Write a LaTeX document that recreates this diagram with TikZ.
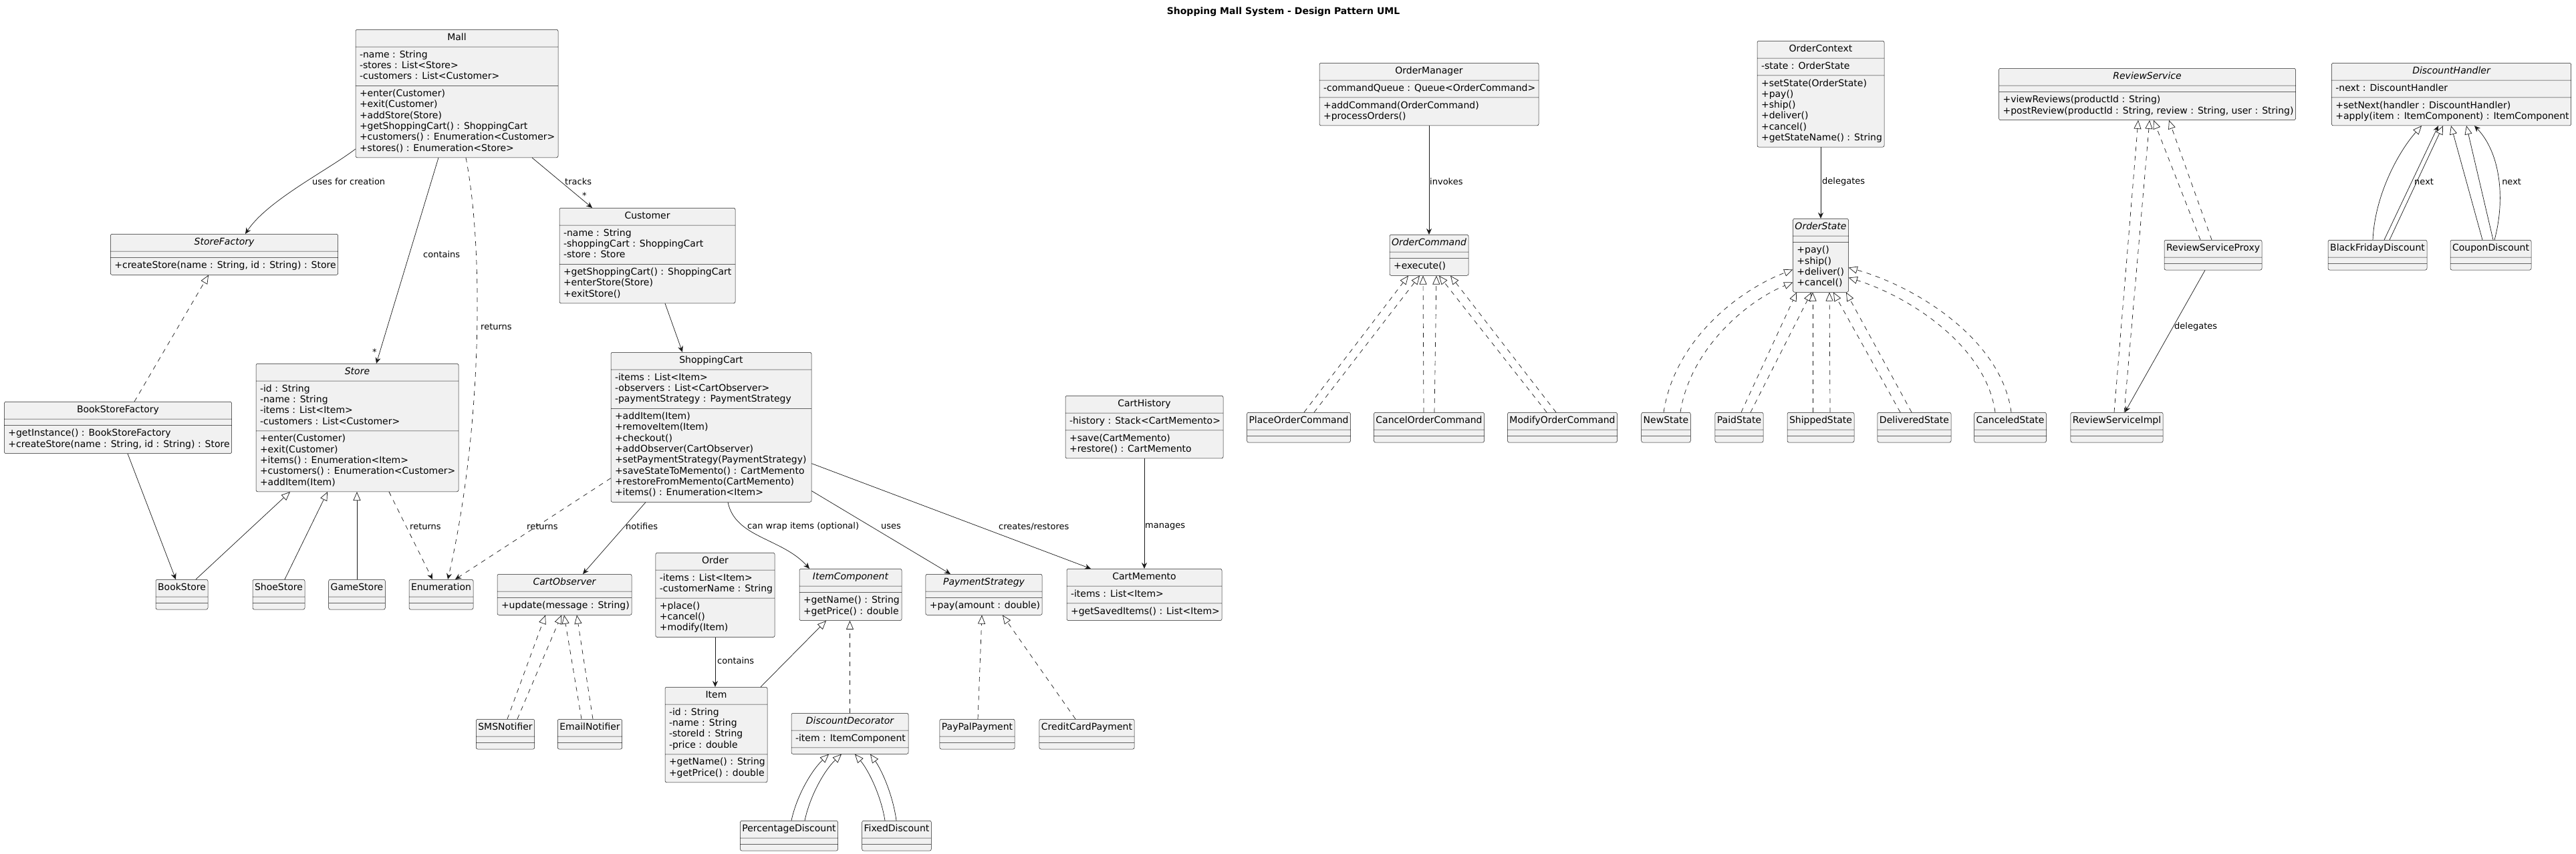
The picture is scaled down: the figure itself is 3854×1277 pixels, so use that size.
\documentclass[tikz,border=0pt]{standalone}
\usepackage{fontspec}
\setmainfont{DejaVu Sans}
\usetikzlibrary{shapes.multipart,arrows.meta}
\definecolor{umlfill}{HTML}{F1F1F1}
\definecolor{umlline}{HTML}{181818}
\newcommand{\umlfont}{\fontsize{14}{16.3}\selectfont}
\newcommand{\lblfont}{\fontsize{13}{15}\selectfont}
\newcommand{\umlrows}[1]{\begin{tabular}{@{\hspace{3pt}}l@{}}#1\end{tabular}}
\newcommand{\abst}[1]{{\itshape\strut #1}}
\newcommand{\nopart}{\rule{0pt}{0.01pt}\hspace*{1pt}}
\begin{document}
\begin{tikzpicture}[x=1pt,y=-1pt,
  umlbox/.style={rectangle split,rectangle split parts=3,rectangle split part align={center,left,left},
    rectangle split empty part height=0pt,rectangle split empty part depth=0pt,
    draw=umlline,fill=umlfill,line width=0.5pt,rounded corners=2.5pt,inner xsep=3pt,inner ysep=4.5pt,font=\umlfont,anchor=north},
  assoc/.style={draw=umlline,line width=0.7pt,-{Stealth[length=9pt,width=8pt,inset=3pt]}},
  depend/.style={assoc,dash pattern=on 7pt off 7pt},
  inherit/.style={draw=umlline,line width=0.7pt,-{Triangle[open,length=13pt,width=11pt,fill=white]}},
  realize/.style={inherit,dash pattern=on 7pt off 7pt},
  lbl/.style={font=\lblfont,inner sep=0pt,anchor=west}]
  \useasboundingbox[fill=white] (0,0) rectangle (3854,1277);
  \node[font=\bfseries\fontsize{14}{16}\selectfont] (title) at (1920,18) {Shopping Mall System - Design Pattern UML};

  \node[umlbox,minimum width=303pt] (mall) at (683.5,44) {\strut Mall\nodepart{two}\umlrows{-name : String\\-stores : List<Store>\\-customers : List<Customer>}\nodepart{three}\umlrows{+enter(Customer)\\+exit(Customer)\\+addStore(Store)\\+getShoppingCart() : ShoppingCart\\+customers() : Enumeration<Customer>\\+stores() : Enumeration<Store>}};
  \node[umlbox,minimum width=339pt] (storefactory) at (335.5,350) {\abst{StoreFactory}\nodepart{two}\nopart\nodepart{three}\umlrows{+createStore(name : String, id : String) : Store}};
  \node[umlbox,minimum width=263pt] (customer) at (968.5,311) {\strut Customer\nodepart{two}\umlrows{-name : String\\-shoppingCart : ShoppingCart\\-store : Store}\nodepart{three}\umlrows{+getShoppingCart() : ShoppingCart\\+enterStore(Store)\\+exitStore()}};
  \node[umlbox,minimum width=339pt] (bookstorefactory) at (176.5,601) {\strut BookStoreFactory\nodepart{two}\nopart\nodepart{three}\umlrows{+getInstance() : BookStoreFactory\\+createStore(name : String, id : String) : Store}};
  \node[umlbox,minimum width=303pt] (store) at (534.5,544) {\abst{Store}\nodepart{two}\umlrows{-id : String\\-name : String\\-items : List<Item>\\-customers : List<Customer>}\nodepart{three}\umlrows{+enter(Customer)\\+exit(Customer)\\+items() : Enumeration<Item>\\+customers() : Enumeration<Customer>\\+addItem(Item)}};
  \node[umlbox,minimum width=300pt] (shoppingcart) at (1064,527) {\strut ShoppingCart\nodepart{two}\umlrows{-items : List<Item>\\-observers : List<CartObserver>\\-paymentStrategy : PaymentStrategy}\nodepart{three}\umlrows{+addItem(Item)\\+removeItem(Item)\\+checkout()\\+addObserver(CartObserver)\\+setPaymentStrategy(PaymentStrategy)\\+saveStateToMemento() : CartMemento\\+restoreFromMemento(CartMemento)\\+items() : Enumeration<Item>}};
  \node[umlbox,minimum width=236pt] (carthistory) at (1712,592) {\strut CartHistory\nodepart{two}\umlrows{-history : Stack<CartMemento>}\nodepart{three}\umlrows{+save(CartMemento)\\+restore() : CartMemento}};
  \node[umlbox,minimum width=78pt] (bookstore) at (272,867) {\strut BookStore\nodepart{two}\nopart\nodepart{three}\nopart};
  \node[umlbox,minimum width=78pt] (shoestore) at (417,867) {\strut ShoeStore\nodepart{two}\nopart\nodepart{three}\nopart};
  \node[umlbox,minimum width=84pt] (gamestore) at (534,867) {\strut GameStore\nodepart{two}\nopart\nodepart{three}\nopart};
  \node[umlbox,minimum width=96pt] (enumeration) at (660,867) {\strut Enumeration\nodepart{two}\nopart\nodepart{three}\nopart};
  \node[umlbox,minimum width=201pt] (cartobserver) at (844.5,859) {\abst{CartObserver}\nodepart{two}\nopart\nodepart{three}\umlrows{+update(message : String)}};
  \node[umlbox,minimum width=178pt] (order) at (1070,827) {\strut Order\nodepart{two}\umlrows{-items : List<Item>\\-customerName : String}\nodepart{three}\umlrows{+place()\\+cancel()\\+modify(Item)}};
  \node[umlbox,minimum width=153pt] (itemcomponent) at (1272.5,851) {\abst{ItemComponent}\nodepart{two}\nopart\nodepart{three}\umlrows{+getName() : String\\+getPrice() : double}};
  \node[umlbox,minimum width=174pt] (paymentstrategy) at (1472,859) {\abst{PaymentStrategy}\nodepart{two}\nopart\nodepart{three}\umlrows{+pay(amount : double)}};
  \node[umlbox,minimum width=232pt] (cartmemento) at (1712,851) {\strut CartMemento\nodepart{two}\umlrows{-items : List<Item>}\nodepart{three}\umlrows{+getSavedItems() : List<Item>}};
  \node[umlbox,minimum width=153pt] (item) at (1071.5,1028) {\strut Item\nodepart{two}\umlrows{-id : String\\-name : String\\-storeId : String\\-price : double}\nodepart{three}\umlrows{+getName() : String\\+getPrice() : double}};
  \node[umlbox,minimum width=175pt] (discountdecorator) at (1271.5,1067) {\abst{DiscountDecorator}\nodepart{two}\umlrows{-item : ItemComponent}\nodepart{three}\nopart};
  \node[umlbox,minimum width=86pt] (smsnotifier) at (756,1076) {\strut SMSNotifier\nodepart{two}\nopart\nodepart{three}\nopart};
  \node[umlbox,minimum width=95pt] (emailnotifier) at (882.5,1076) {\strut EmailNotifier\nodepart{two}\nopart\nodepart{three}\nopart};
  \node[umlbox,minimum width=112pt] (paypalpayment) at (1462,1076) {\strut PayPalPayment\nodepart{two}\nopart\nodepart{three}\nopart};
  \node[umlbox,minimum width=142pt] (creditcardpayment) at (1626,1076) {\strut CreditCardPayment\nodepart{two}\nopart\nodepart{three}\nopart};
  \node[umlbox,minimum width=145pt] (percentagediscount) at (1180.5,1228) {\strut PercentageDiscount\nodepart{two}\nopart\nodepart{three}\nopart};
  \node[umlbox,minimum width=103pt] (fixeddiscount) at (1341.5,1228) {\strut FixedDiscount\nodepart{two}\nopart\nodepart{three}\nopart};

  \node[umlbox,minimum width=328pt] (ordermanager) at (2138,94) {\strut OrderManager\nodepart{two}\umlrows{-commandQueue : Queue<OrderCommand>}\nodepart{three}\umlrows{+addCommand(OrderCommand)\\+processOrders()}};
  \node[umlbox,minimum width=116pt] (ordercommand) at (2138,351) {\abst{OrderCommand}\nodepart{two}\nopart\nodepart{three}\umlrows{+execute()}};
  \node[umlbox,minimum width=190pt] (ordercontext) at (2724,61) {\strut OrderContext\nodepart{two}\umlrows{-state : OrderState}\nodepart{three}\umlrows{+setState(OrderState)\\+pay()\\+ship()\\+deliver()\\+cancel()\\+getStateName() : String}};
  \node[umlbox,minimum width=82pt] (orderstate) at (2724,327) {\abst{OrderState}\nodepart{two}\nopart\nodepart{three}\umlrows{+pay()\\+ship()\\+deliver()\\+cancel()}};
  \node[umlbox,minimum width=154pt] (placeordercommand) at (1943,617) {\strut PlaceOrderCommand\nodepart{two}\nopart\nodepart{three}\nopart};
  \node[umlbox,minimum width=164pt] (cancelordercommand) at (2138,617) {\strut CancelOrderCommand\nodepart{two}\nopart\nodepart{three}\nopart};
  \node[umlbox,minimum width=163pt] (modifyordercommand) at (2337.5,617) {\strut ModifyOrderCommand\nodepart{two}\nopart\nodepart{three}\nopart};
  \node[umlbox,minimum width=73pt] (newstate) at (2492.5,617) {\strut NewState\nodepart{two}\nopart\nodepart{three}\nopart};
  \node[umlbox,minimum width=72pt] (paidstate) at (2602,617) {\strut PaidState\nodepart{two}\nopart\nodepart{three}\nopart};
  \node[umlbox,minimum width=100pt] (shippedstate) at (2724,617) {\strut ShippedState\nodepart{two}\nopart\nodepart{three}\nopart};
  \node[umlbox,minimum width=110pt] (deliveredstate) at (2864,617) {\strut DeliveredState\nodepart{two}\nopart\nodepart{three}\nopart};
  \node[umlbox,minimum width=107pt] (canceledstate) at (3007.5,617) {\strut CanceledState\nodepart{two}\nopart\nodepart{three}\nopart};

  \node[umlbox,minimum width=443pt] (reviewservice) at (3212.5,102) {\abst{ReviewService}\nodepart{two}\nopart\nodepart{three}\umlrows{+viewReviews(productId : String)\\+postReview(productId : String, review : String, user : String)}};
  \node[umlbox,minimum width=146pt] (reviewserviceproxy) at (3311,359) {\strut ReviewServiceProxy\nodepart{two}\nopart\nodepart{three}\nopart};
  \node[umlbox,minimum width=138pt] (reviewserviceimpl) at (3167,617) {\strut ReviewServiceImpl\nodepart{two}\nopart\nodepart{three}\nopart};
  \node[umlbox,minimum width=357pt] (discounthandler) at (3667.5,94) {\abst{DiscountHandler}\nodepart{two}\umlrows{-next : DiscountHandler}\nodepart{three}\umlrows{+setNext(handler : DiscountHandler)\\+apply(item : ItemComponent) : ItemComponent}};
  \node[umlbox,minimum width=148pt] (blackfridaydiscount) at (3557,359) {\strut BlackFridayDiscount\nodepart{two}\nopart\nodepart{three}\nopart};
  \node[umlbox,minimum width=121pt] (coupondiscount) at (3726.5,359) {\strut CouponDiscount\nodepart{two}\nopart\nodepart{three}\nopart};

  \draw[assoc] ([yshift=13pt]mall.south west) .. controls (490,255) and (400,300) .. ([xshift=31.5pt]storefactory.north);
  \draw[assoc] ([xshift=-27.5pt]mall.south) -- ([xshift=28.5pt]store.north);
  \draw[depend] ([xshift=13.5pt]mall.south) .. controls (725,380) and (720,650) .. ([xshift=10pt]enumeration.north);
  \draw[assoc] ([xshift=112.5pt]mall.south) -- ([xshift=-82.5pt]customer.north);
  \draw[realize] ([xshift=24.5pt]bookstorefactory.north) -- ([xshift=-23.5pt]storefactory.south);
  \draw[assoc] ([xshift=14.5pt]bookstorefactory.south) -- ([xshift=-9pt]bookstore.north);
  \draw[inherit] ([xshift=21pt]bookstore.north) -- ([xshift=-100.5pt]store.south);
  \draw[inherit] ([xshift=9pt]shoestore.north) -- ([xshift=-44.5pt]store.south);
  \draw[inherit] (gamestore.north) -- (gamestore.north |- store.south);
  \draw[depend] ([xshift=47.5pt]store.south) -- ([xshift=-13pt]enumeration.north);
  \draw[depend] ([yshift=36pt]shoppingcart.south west) -- ([xshift=21pt]enumeration.north);
  \draw[assoc] ([xshift=-98pt]shoppingcart.south) -- ([xshift=27.5pt]cartobserver.north);
  \draw[assoc] ([xshift=26.5pt]customer.south) -- ([xshift=-43pt]shoppingcart.north);
  \draw[assoc] ([xshift=25pt]shoppingcart.south) .. controls (1100,805) and (1170,805) .. ([xshift=-61.5pt]itemcomponent.north);
  \draw[assoc] ([yshift=17pt]shoppingcart.south east) -- ([xshift=-50pt]paymentstrategy.north);
  \draw[assoc] ([yshift=58pt]shoppingcart.south east) -- ([xshift=-80pt]cartmemento.north);
  \draw[assoc] (carthistory.south) -- (cartmemento.north);
  \draw[assoc] (order.south) -- (order.south |- item.north);
  \draw[inherit] ([xshift=66.5pt]item.north) -- ([xshift=-36.5pt]itemcomponent.south);
  \draw[realize] (discountdecorator.north) -- (discountdecorator.north |- itemcomponent.south);
  \draw[inherit] ([xshift=3.5pt]percentagediscount.north) .. controls (1192,1190) and (1215,1152) .. ([xshift=-31.5pt]discountdecorator.south);
  \draw[inherit] ([xshift=23.5pt]percentagediscount.north) .. controls (1212,1190) and (1234,1152) .. ([xshift=-12.5pt]discountdecorator.south);
  \draw[inherit] ([xshift=-17.5pt]fixeddiscount.north) .. controls (1318,1190) and (1299,1152) .. ([xshift=7.5pt]discountdecorator.south);
  \draw[inherit] ([xshift=-0.5pt]fixeddiscount.north) .. controls (1336,1190) and (1319,1152) .. ([xshift=30.5pt]discountdecorator.south);
  \draw[realize] ([xshift=3pt]smsnotifier.north) -- ([xshift=-28.5pt]cartobserver.south);
  \draw[realize] ([xshift=18pt]smsnotifier.north) -- ([xshift=-4.5pt]cartobserver.south);
  \draw[realize] ([xshift=-12.5pt]emailnotifier.north) -- ([xshift=-0.5pt]cartobserver.south);
  \draw[realize] ([xshift=4.5pt]emailnotifier.north) -- ([xshift=18.5pt]cartobserver.south);
  \draw[realize] ([xshift=1pt]paypalpayment.north) -- ([xshift=-3pt]paymentstrategy.south);
  \draw[realize] ([xshift=-17pt]creditcardpayment.north) -- ([xshift=28pt]paymentstrategy.south);

  \draw[assoc] (ordermanager.south) -- (ordercommand.north);
  \draw[assoc] (ordercontext.south) -- (orderstate.north);
  \draw[realize] ([xshift=8pt]placeordercommand.north) -- ([xshift=-31pt]ordercommand.south);
  \draw[realize] ([xshift=23pt]placeordercommand.north) -- ([xshift=-14pt]ordercommand.south);
  \draw[realize] ([xshift=-8pt]cancelordercommand.north) -- ([xshift=-9pt]ordercommand.south);
  \draw[realize] ([xshift=8pt]cancelordercommand.north) -- ([xshift=11pt]ordercommand.south);
  \draw[realize] ([xshift=-23.5pt]modifyordercommand.north) -- ([xshift=15pt]ordercommand.south);
  \draw[realize] ([xshift=-9.5pt]modifyordercommand.north) -- ([xshift=32pt]ordercommand.south);
  \draw[realize] ([xshift=-3.5pt]newstate.north) .. controls (2505,510) and (2600,435) .. ([yshift=34pt]orderstate.south west);
  \draw[realize] ([xshift=21.5pt]newstate.north) .. controls (2528,525) and (2610,452) .. ([yshift=15pt]orderstate.south west);
  \draw[realize] ([xshift=3pt]paidstate.north) -- ([xshift=-36pt]orderstate.south);
  \draw[realize] ([xshift=17pt]paidstate.north) -- ([xshift=-14pt]orderstate.south);
  \draw[realize] ([xshift=-12pt]shippedstate.north) -- ([xshift=-12pt]orderstate.south);
  \draw[realize] ([xshift=14pt]shippedstate.north) -- ([xshift=13pt]orderstate.south);
  \draw[realize] ([xshift=-21pt]deliveredstate.north) -- ([xshift=19pt]orderstate.south);
  \draw[realize] ([xshift=-4pt]deliveredstate.north) -- ([xshift=38pt]orderstate.south);
  \draw[realize] ([xshift=1.5pt]canceledstate.north) .. controls (2995,510) and (2870,430) .. ([yshift=37pt]orderstate.south east);
  \draw[realize] ([xshift=-22.5pt]canceledstate.north) .. controls (2972,520) and (2860,445) .. ([yshift=22pt]orderstate.south east);

  \draw[realize] ([xshift=-4pt]reviewserviceimpl.north) -- ([xshift=-13.5pt]reviewservice.south);
  \draw[realize] ([xshift=11pt]reviewserviceimpl.north) -- ([xshift=3.5pt]reviewservice.south);
  \draw[realize] ([xshift=-19pt]reviewserviceproxy.north) -- ([xshift=9.5pt]reviewservice.south);
  \draw[realize] ([xshift=-2pt]reviewserviceproxy.north) -- ([xshift=32.5pt]reviewservice.south);
  \draw[assoc] ([xshift=-12pt]reviewserviceproxy.south) -- ([xshift=12pt]reviewserviceimpl.north);
  \draw[inherit] ([xshift=-7pt]blackfridaydiscount.north) .. controls (3553,290) and (3590,225) .. ([xshift=-44.5pt]discounthandler.south);
  \draw[assoc] ([xshift=10pt]blackfridaydiscount.north) -- ([xshift=-19.5pt]discounthandler.south);
  \draw[inherit] ([xshift=18pt]blackfridaydiscount.north) -- ([xshift=-12.5pt]discounthandler.south);
  \draw[inherit] ([xshift=-12.5pt]coupondiscount.north) -- ([xshift=-0.5pt]discounthandler.south);
  \draw[inherit] ([xshift=3.5pt]coupondiscount.north) -- ([xshift=22.5pt]discounthandler.south);
  \draw[assoc] ([xshift=5.5pt]coupondiscount.north) .. controls (3748,300) and (3742,230) .. ([xshift=34.5pt]discounthandler.south);

  \node[lbl] (lcreation) at (467,272) {uses for creation};
  \node[lbl] (lcontains) at (633,381) {contains};
  \node[lbl] (ltracks) at (845,272) {tracks};
  \node[lbl] (mtracks) at (871,293) {*};
  \node[lbl] (lmallreturns) at (719,489) {returns};
  \node[lbl] (mcontains) at (557,527) {*};
  \node[lbl] (lstorereturns) at (613,788) {returns};
  \node[lbl] (lcartreturns) at (788,788) {returns};
  \node[lbl] (lnotifies) at (936,788) {notifies};
  \node[lbl] (lwrap) at (1118,788) {can wrap items (optional)};
  \node[lbl] (luses) at (1318,788) {uses};
  \node[lbl] (lcreates) at (1494,788) {creates/restores};
  \node[lbl] (lmanages) at (1713,788) {manages};
  \node[lbl] (litems) at (1073,989) {contains};
  \node[lbl] (linvokes) at (2139,272) {invokes};
  \node[lbl] (lstatedelegates) at (2726,272) {delegates};
  \node[lbl] (lproxydelegates) at (3253,489) {delegates};
  \node[lbl] (lnextblack) at (3612,272) {next};
  \node[lbl] (lnextcoupon) at (3743,272) {next};
\end{tikzpicture}
\end{document}
